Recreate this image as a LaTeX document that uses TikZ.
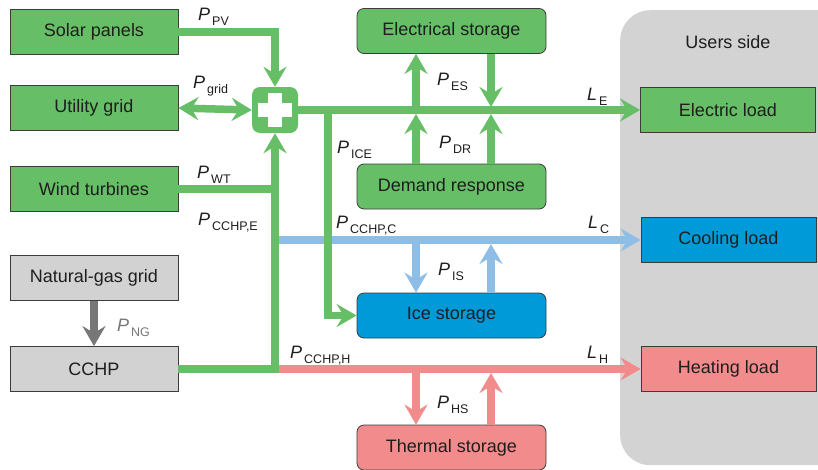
\documentclass[tikz,border=0pt]{standalone}
\usepackage{fontspec}
\setmainfont{Liberation Sans}
\usepackage{tikz}
\usetikzlibrary{arrows.meta, positioning, calc}
\definecolor{ink}{HTML}{1E1E1E}
\definecolor{edge}{HTML}{3C3C3C}
\definecolor{elec}{HTML}{66BE66}
\definecolor{cold}{HTML}{009AD8}
\definecolor{coldLine}{HTML}{8EBDE6}
\definecolor{heat}{HTML}{F28C8C}
\definecolor{gas}{HTML}{D2D2D2}
\definecolor{gasLine}{HTML}{777777}
\definecolor{users}{HTML}{D3D3D3}
\newcommand{\flow}[2]{\textit{#1}\kern2pt\raisebox{-5pt}{\fontsize{12.5pt}{13pt}\selectfont #2}}

\begin{document}
\begin{tikzpicture}[x=1pt, y=-1pt, font=\fontsize{18pt}{20pt}\selectfont, text=ink]
    \tikzset{
      p/.style={rectangle, draw=edge, line width=0.8pt, minimum width=168pt,
                minimum height=45pt, inner sep=2pt},
      src/.style={p, fill=elec},
      fuel/.style={p, fill=gas},
      store/.style={p, rounded corners=7pt, minimum width=189pt},
      load/.style={p, minimum width=175pt},
      hub/.style={rectangle, fill=elec, rounded corners=8pt, minimum size=46pt,
                  path picture={
                    \fill[white, sharp corners] ([shift={(-17pt,-7pt)}]path picture bounding box.center)
                      rectangle ([shift={(17pt,7pt)}]path picture bounding box.center);
                    \fill[white, sharp corners] ([shift={(-7pt,-17pt)}]path picture bounding box.center)
                      rectangle ([shift={(7pt,17pt)}]path picture bounding box.center);}},
      tip/.tip={Stealth[length=20pt, width=23pt, inset=7pt]},
      fl/.style={line width=7.5pt},
      gfl/.style={fl, draw=elec},
      gf/.style={gfl, -tip},
      bf/.style={fl, draw=coldLine, -tip},
      rf/.style={fl, draw=heat, -tip},
      nf/.style={fl, draw=gasLine, -tip},
      lab/.style={anchor=base west, inner sep=0pt}
    }
    \useasboundingbox (0,0) rectangle (818,469);
    % users side
    \node[fill=users, rounded corners=30pt, minimum width=240pt, minimum height=455pt,
          anchor=north west] (side) at (620,10) {};
    \node (ustitle) at (728,42) {Users side};
    % sources
    \node[src] (pv) at (94,32) {Solar panels};
    \node[src] (grid) at (94,108) {Utility grid};
    \node[src] (wt) at (94,189) {Wind turbines};
    \node[fuel] (ng) at (94,278) {Natural-gas grid};
    \node[fuel] (cchp) at (94,369) {CCHP};
    \node[hub] (hub) at (275,110) {};
    % storage
    \node[store, fill=elec] (es) at (451.5,31) {Electrical storage};
    \node[store, fill=elec] (dr) at (451.5,186.5) {Demand response};
    \node[store, fill=cold] (ice) at (451.5,315.5) {Ice storage};
    \node[store, fill=heat] (ts) at (451.5,447.5) {Thermal storage};
    % loads
    \node[load, fill=elec] (el) at (728,110) {Electric load};
    \node[load, fill=cold] (cl) at (728.5,240) {Cooling load};
    \node[load, fill=heat] (hl) at (728.5,369) {Heating load};
    % junctions
    \coordinate (cb) at (279,240);
    \coordinate (hb) at (279,369);
    \coordinate (i1) at (328,110);
    \coordinate (e1) at (416,110);
    \coordinate (e2) at (491,110);
    \coordinate (c1) at (416,240);
    \coordinate (c2) at (491,240);
    \coordinate (h1) at (416,369);
    \coordinate (h2) at (491,369);
    % cooling and heating
    \draw[bf] (cb) -- (cl.west);
    \draw[bf] (c1) -- (c1 |- ice.north);
    \draw[bf, shorten >=4pt] (c2 |- ice.north) -- (c2);
    \draw[rf] (hb) -- (hl.west);
    \draw[rf] (h1) -- (h1 |- ts.north);
    \draw[rf, shorten >=4pt] (h2 |- ts.north) -- (h2);
    % electricity
    \draw[gf] (pv.east) -| (hub.north);
    \draw[gfl, tip-tip] (grid.east) -- (hub.west);
    \draw[gfl] (wt.east) -- (wt.east -| hub.south);
    \draw[gf] (cchp.east) -| (hub.south);
    \draw[gf] (hub.east) -- (el.west);
    \draw[gf] (i1) |- (ice.west);
    \draw[gf] (e1) -- (e1 |- es.south);
    \draw[gf, shorten >=3pt] (e2 |- es.south) -- (e2);
    \draw[gf, shorten >=4pt] (e1 |- dr.north) -- (e1);
    \draw[gf, shorten >=4pt] (e2 |- dr.north) -- (e2);
    \draw[nf] (ng.south) -- (cchp.north);
    % labels
    \node[lab] (lpv) at (198,20) {\flow{P}{PV}};
    \node[lab] (lgrid) at (193,88) {\flow{P}{grid}};
    \node[lab] (lwt) at (197,178) {\flow{P}{WT}};
    \node[lab] (lce) at (198,225) {\flow{P}{CCHP,E}};
    \node[lab] (lice) at (337,153) {\flow{P}{ICE}};
    \node[lab] (les) at (437,85) {\flow{P}{ES}};
    \node[lab] (ldr) at (439,148) {\flow{P}{DR}};
    \node[lab] (lle) at (587,100) {\flow{L}{E}};
    \node[lab] (lcc) at (336,228) {\flow{P}{CCHP,C}};
    \node[lab] (llc) at (588,228) {\flow{L}{C}};
    \node[lab] (lis) at (438,275) {\flow{P}{IS}};
    \node[lab, text=gasLine] (lng) at (117,331) {\flow{P}{NG}};
    \node[lab] (lch) at (290,358) {\flow{P}{CCHP,H}};
    \node[lab] (llh) at (587,358) {\flow{L}{H}};
    \node[lab] (lhs) at (437,408) {\flow{P}{HS}};
  \end{tikzpicture}
\end{document}
